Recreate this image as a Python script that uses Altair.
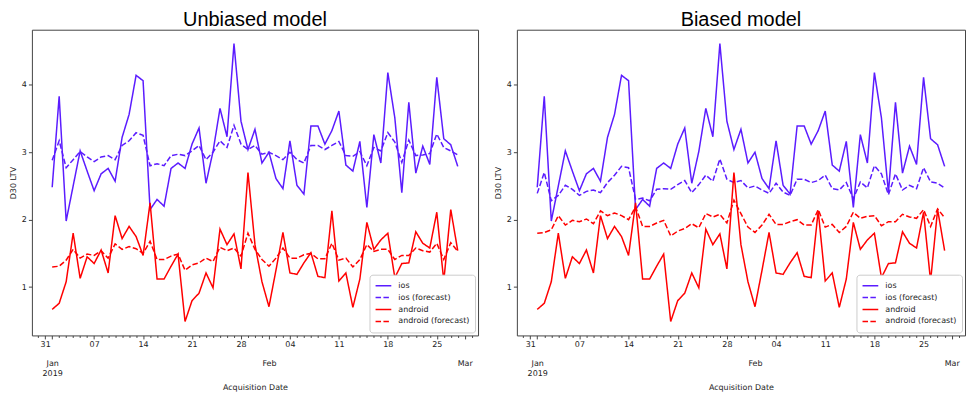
import altair as alt
import pandas as pd

# ---- data (daily, 2019-01-01 .. 2019-02-28) ----
ios_actual = [2.48, 3.83, 1.98, 2.50, 3.02, 2.72, 2.43, 2.68, 2.76, 2.57,
              3.22, 3.56, 4.14, 4.06, 2.15, 2.30, 2.20, 2.76, 2.84, 2.76,
              3.12, 3.36, 2.54, 3.01, 3.65, 3.23, 4.61, 3.46, 3.04, 3.34,
              2.84, 3.00, 2.61, 2.46, 3.17, 2.51, 2.38, 3.39, 3.39, 3.12,
              3.32, 3.61, 2.81, 2.72, 3.16, 2.18, 3.26, 2.84, 4.18, 3.51,
              2.40, 3.74, 2.69, 3.09, 2.82, 4.11, 3.20, 3.11, 2.79]
android_actual = [0.67, 0.76, 1.08, 1.80, 1.13, 1.45, 1.35, 1.55, 1.21, 2.06,
                  1.72, 1.90, 1.75, 1.47, 2.25, 1.12, 1.12, 1.31, 1.49, 0.49,
                  0.80, 0.91, 1.21, 0.99, 1.86, 1.63, 1.79, 1.27, 2.70, 1.63,
                  1.08, 0.71, 1.25, 1.81, 1.21, 1.19, 1.36, 1.51, 1.16, 1.14,
                  2.13, 1.09, 1.21, 0.70, 1.12, 1.96, 1.56, 1.70, 1.80, 1.14,
                  1.35, 1.36, 1.82, 1.65, 1.58, 2.11, 1.09, 2.15, 1.54]
ios_fc_unbiased = [2.88, 3.17, 2.77, 2.89, 3.01, 2.93, 2.86, 2.93, 2.95, 2.89,
                   3.10, 3.17, 3.29, 3.25, 2.80, 2.83, 2.80, 2.95, 2.97, 2.95,
                   3.02, 3.10, 2.89, 3.00, 3.17, 3.07, 3.40, 3.12, 3.04, 3.10,
                   2.97, 3.00, 2.95, 2.89, 3.00, 2.89, 2.84, 3.10, 3.10, 3.04,
                   3.10, 3.16, 2.95, 2.94, 3.01, 2.80, 3.07, 3.02, 3.29, 3.15,
                   2.85, 3.18, 2.95, 2.96, 2.98, 3.27, 3.07, 3.02, 2.96]
android_fc_unbiased = [1.30, 1.31, 1.40, 1.56, 1.43, 1.49, 1.47, 1.54, 1.43, 1.64,
                       1.56, 1.60, 1.57, 1.50, 1.68, 1.41, 1.41, 1.46, 1.49, 1.25,
                       1.33, 1.36, 1.43, 1.38, 1.59, 1.54, 1.58, 1.46, 1.80, 1.56,
                       1.41, 1.31, 1.43, 1.58, 1.43, 1.43, 1.48, 1.50, 1.42, 1.42,
                       1.65, 1.40, 1.43, 1.30, 1.41, 1.63, 1.53, 1.56, 1.56, 1.41,
                       1.47, 1.47, 1.58, 1.54, 1.52, 1.65, 1.41, 1.66, 1.53]
ios_fc_biased = [2.39, 2.70, 2.28, 2.36, 2.51, 2.45, 2.36, 2.42, 2.44, 2.40,
                 2.55, 2.66, 2.79, 2.77, 2.30, 2.32, 2.28, 2.45, 2.46, 2.45,
                 2.52, 2.58, 2.40, 2.52, 2.66, 2.57, 2.90, 2.60, 2.55, 2.58,
                 2.47, 2.50, 2.44, 2.39, 2.54, 2.41, 2.36, 2.60, 2.60, 2.55,
                 2.58, 2.66, 2.46, 2.44, 2.55, 2.31, 2.56, 2.47, 2.80, 2.68,
                 2.37, 2.68, 2.44, 2.51, 2.46, 2.77, 2.56, 2.54, 2.47]
android_fc_biased = [1.80, 1.81, 1.85, 2.06, 1.92, 1.99, 1.97, 2.01, 1.94, 2.13,
                     2.06, 2.10, 2.06, 2.00, 2.19, 1.90, 1.90, 1.95, 1.99, 1.76,
                     1.83, 1.87, 1.94, 1.88, 2.09, 2.04, 2.08, 1.95, 2.29, 2.09,
                     1.89, 1.81, 1.92, 2.08, 1.93, 1.93, 1.97, 2.00, 1.92, 1.92,
                     2.15, 1.89, 1.93, 1.81, 1.90, 2.11, 2.02, 2.05, 2.06, 1.91,
                     1.97, 1.97, 2.08, 2.04, 2.02, 2.15, 1.90, 2.16, 2.03]

series_names = ["ios", "ios (forecast)", "android", "android (forecast)"]
series_colors = ["#5b1cff", "#5b1cff", "#ff0000", "#ff0000"]
series_dash = [[1, 0], [5.5, 2.4], [1, 0], [5.5, 2.4]]
y_ticks = [1, 2, 3, 4]

start = pd.Timestamp("2019-01-01")
dates = [(start + pd.Timedelta(days=i)).strftime("%Y-%m-%dT00:00:00")
         for i in range(len(ios_actual))]

# daily tick positions across the visible range
tick_days = pd.date_range("2018-12-30", "2019-03-02", freq="D")
tick_values = [alt.DateTime(year=d.year, month=d.month, date=d.day) for d in tick_days]

x_domain = [alt.DateTime(year=2018, month=12, date=29, hours=2, minutes=24),
            alt.DateTime(year=2019, month=3, date=2, hours=21, minutes=36)]

FONT = "DejaVu Sans"
TXT = "#222222"

MONTH_START = "date(datum.value)==1"
label_expr = ("day(datum.value)==1 ? timeFormat(datum.value,'%d') : "
              "(" + MONTH_START + " ? (month(datum.value)==0 ? ['Jan', '2019'] : "
              "timeFormat(datum.value,'%b')) : '')")


def panel(title, ios_fc, and_fc, width):
    rows = []
    for name, vals in zip(series_names, [ios_actual, ios_fc, android_actual, and_fc]):
        for d, v in zip(dates, vals):
            rows.append({"date": d, "series": name, "value": v})
    df = pd.DataFrame(rows)

    legend = alt.Legend(
        orient="bottom-right", offset=3, padding=5, fillColor="white",
        strokeColor="#cccccc", cornerRadius=3, labelFont=FONT, labelFontSize=8,
        labelColor=TXT, symbolType="stroke", symbolStrokeWidth=1.5,
        symbolSize=250, rowPadding=0, clipHeight=12, labelOffset=6,
    )
    xaxis = alt.Axis(
        values=tick_values, labelExpr=label_expr, labelOverlap=False,
        labelFlush=False, labelFont=FONT, labelFontSize=8, labelColor=TXT,
        labelLineHeight=10, labelBaseline="top",
        labelPadding={"condition": {"test": MONTH_START, "value": 21}, "value": 2},
        grid=False, domain=False, tickColor="#444444",
        tickSize={"condition": {"test": "day(datum.value)==1 || " + MONTH_START,
                                "value": 3.5}, "value": 2},
        titleFont=FONT, titleFontSize=8, titleFontWeight="normal",
        titleColor=TXT, titlePadding=6,
    )
    yaxis = alt.Axis(
        values=y_ticks, format="d", labelFont=FONT, labelFontSize=8,
        labelColor=TXT, labelPadding=2, grid=False, domain=False,
        tickColor="#444444", tickSize=3.5,
        titleFont=FONT, titleFontSize=8, titleFontWeight="normal",
        titleColor=TXT, titlePadding=4,
    )
    return alt.Chart(df).mark_line(strokeWidth=1.5).encode(
        x=alt.X("date:T", scale=alt.Scale(domain=x_domain), axis=xaxis,
                title="Acquisition Date"),
        y=alt.Y("value:Q", scale=alt.Scale(domain=[0.284, 4.816], nice=False, zero=False),
                axis=yaxis, title="D30 LTV"),
        color=alt.Color("series:N", scale=alt.Scale(domain=series_names, range=series_colors),
                        legend=legend, title=None),
        strokeDash=alt.StrokeDash("series:N", scale=alt.Scale(domain=series_names, range=series_dash),
                                  legend=legend, title=None),
    ).properties(
        width=width, height=307,
        title=alt.Title(title, font="Liberation Sans", fontSize=20,
                        fontWeight="normal", color="#000000", offset=0, anchor="middle"),
    )


left = panel("Unbiased model", ios_fc_unbiased, android_fc_unbiased, 448)
right = panel("Biased model", ios_fc_biased, android_fc_biased, 450)

chart = alt.hconcat(left, right, spacing=14).resolve_scale(
    color="independent", strokeDash="independent"
).properties(
    padding={"left": 0, "top": 0, "right": 0, "bottom": 0}
).configure_view(stroke="#444444", strokeWidth=1)

chart.save("out.html", embed_options={"renderer": "svg", "actions": False})
